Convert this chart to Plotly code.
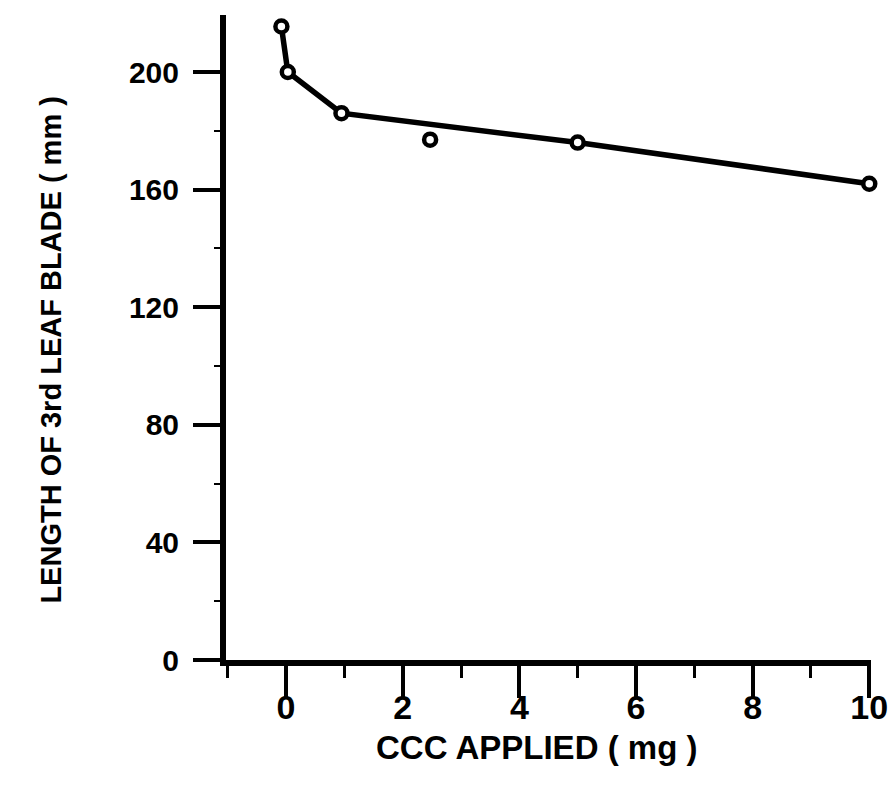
import plotly.graph_objects as go

# Data
line_x = [-0.08, 0.03, 0.95, 5.0, 10.0]
line_y = [215.5, 200.0, 186.0, 176.0, 162.0]
extra_x = [2.47]
extra_y = [177.0]

x_ticks = [0, 2, 4, 6, 8, 10]
y_ticks = [0, 40, 80, 120, 160, 200]

FONT = "Liberation Sans Narrow, Liberation Sans, Arial, sans-serif"

L, R, T, B = 226, 5, 15, 128
W, H = 893, 788
PW, PH = W - L - R, H - T - B

marker = dict(symbol="circle", size=12, color="white",
              line=dict(color="black", width=4.5))

fig = go.Figure()
fig.add_trace(go.Scatter(
    x=line_x, y=line_y, mode="lines+markers",
    line=dict(color="black", width=5.5),
    marker=marker, cliponaxis=False, showlegend=False))
fig.add_trace(go.Scatter(
    x=extra_x, y=extra_y, mode="markers",
    marker=marker, cliponaxis=False, showlegend=False))

fig.update_layout(
    width=W, height=H,
    margin=dict(l=L, r=R, t=T, b=B),
    paper_bgcolor="white", plot_bgcolor="white",
    font=dict(family=FONT, color="black", weight="bold"),
    xaxis=dict(
        range=[-1.03, 10.03], showgrid=False, zeroline=False,
        showline=True, linecolor="black", linewidth=6,
        tickmode="array", tickvals=x_ticks, ticktext=[str(v) for v in x_ticks],
        ticks="outside", ticklen=32, tickwidth=4, tickcolor="black",
        ticklabelstandoff=-20, ticklabeloverflow="allow",
        tickfont=dict(family=FONT, size=34, color="black", weight="bold"),
        minor=dict(dtick=1, tick0=1, ticks="outside", ticklen=12,
                   tickwidth=3, tickcolor="black", showgrid=False),
    ),
    yaxis=dict(
        range=[0, 219.4], showgrid=False, zeroline=False,
        showline=True, linecolor="black", linewidth=6,
        tickmode="array", tickvals=y_ticks, ticktext=[str(v) for v in y_ticks],
        ticks="outside", ticklen=27, tickwidth=4, tickcolor="black",
        ticklabelstandoff=8, ticklabeloverflow="allow",
        tickfont=dict(family=FONT, size=30, color="black", weight="bold"),
        minor=dict(dtick=20, tick0=0, ticks="outside", ticklen=6,
                   tickwidth=2, tickcolor="black", showgrid=False),
    ),
    annotations=[
        dict(text="LENGTH OF 3rd LEAF BLADE ( mm )", xref="paper", yref="paper",
             x=(46 - L) / PW, y=(H - B - 350) / PH, textangle=-90,
             showarrow=False, xanchor="center", yanchor="middle",
             font=dict(family=FONT, size=29, color="black", weight="bold")),
        dict(text="CCC APPLIED ( mg )", xref="paper", yref="paper",
             x=(545 - L) / PW, y=(H - B - 748) / PH,
             showarrow=False, xanchor="center", yanchor="middle",
             font=dict(family=FONT, size=33, color="black", weight="bold")),
    ],
)

fig.write_html("out.html")
